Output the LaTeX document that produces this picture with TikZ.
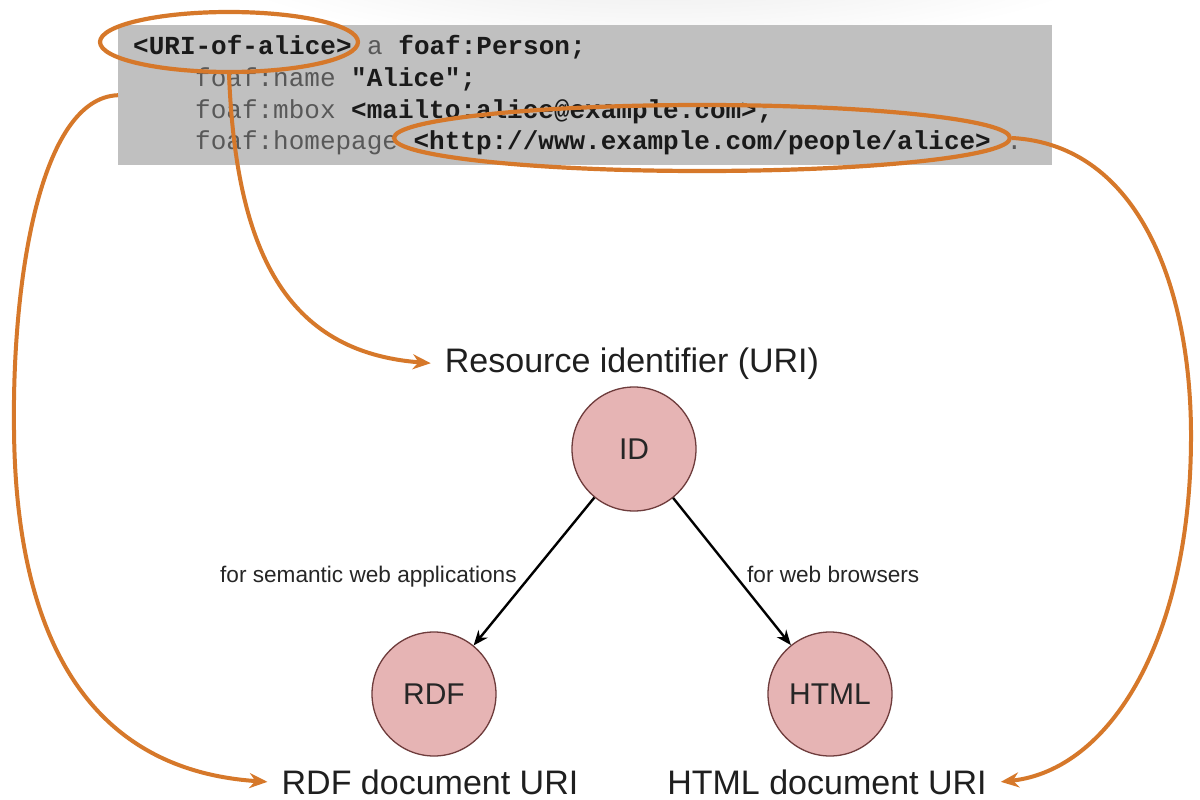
\documentclass[tikz,border=0pt]{standalone}
\usepackage{fontspec}
\setmainfont{Liberation Sans}
\newfontfamily\codefont{Liberation Mono}
\usetikzlibrary{arrows.meta,shapes.geometric}
\definecolor{orng}{HTML}{D6782A}
\definecolor{pinkfill}{HTML}{E6B4B4}
\definecolor{pinkdraw}{HTML}{6E3C3C}
\definecolor{codebg}{HTML}{C0C0C0}
\definecolor{codereg}{HTML}{585858}
\definecolor{codebold}{HTML}{1A1A1A}
\newcommand\cb[1]{{\bfseries\color{codebold}#1}}
\begin{document}
\begin{tikzpicture}[x=1pt,y=-1pt,
  code/.style={anchor=base west, inner sep=0pt, font=\codefont\fontsize{26}{26}\selectfont, text=codereg},
  big/.style={anchor=base, inner sep=0pt, font=\fontsize{34}{34}\selectfont, text=black!88},
  small/.style={anchor=base west, inner sep=0pt, font=\fontsize{22.6}{23}\selectfont, text=black!85},
  res/.style={circle, draw=pinkdraw, fill=pinkfill, line width=1.3pt, minimum size=124pt, inner sep=0pt, font=\fontsize{30}{30}\selectfont, text=black!85},
  hl/.style={ellipse, draw=orng, line width=4.2pt, inner sep=0pt},
  link/.style={draw=orng, line width=4pt, -{Stealth[length=18pt,width=15pt]}},
  arc/.style={draw=black, line width=2.4pt, -{Stealth[length=15pt,width=12pt]}}]
\useasboundingbox (0,0) rectangle (1200,800);
\fill[white] (0,0) rectangle (1200,800);
% faint slide shading at top
\begin{scope}
\clip (0,0) rectangle (1200,26);
\shade[inner color=black!10, outer color=white] (660,-60) ellipse [x radius=480, y radius=110];
\end{scope}
% code box
\node[fill=codebg, minimum width=934pt, minimum height=140pt, inner sep=0pt, anchor=north west] (box) at (118,25) {};
\node[code] (l1) at (133,55) {\cb{<URI-of-alice>} a \cb{foaf:Person;}};
\node[code] (l2) at (195,87) {foaf:name \cb{"Alice";}};
\node[code] (l3) at (195,118) {foaf:mbox \cb{<mailto:alice@example.com>;}};
\node[code] (l4) at (195,149) {foaf:homepage \cb{<http://www.example.com/people/alice>} .};
% highlight ellipses
\node[hl, minimum width=258pt, minimum height=60pt] (e1) at (229,42) {};
\node[hl, minimum width=616pt, minimum height=66pt] (e2) at (702,138) {};
% labels
\node[big] (rid) at (632,372) {Resource identifier (URI)};
\node[big] (rdfl) at (430,794) {RDF document URI};
\node[big] (htmll) at (827,794) {HTML document URI};
% resources
\node[res] (ID) at (634,449) {ID};
\node[res] (RDF) at (434,694) {RDF};
\node[res] (HTML) at (830,694) {HTML};
\draw[arc] (ID) -- (RDF);
\draw[arc] (ID) -- (HTML);
\node[small] (lsem) at (220,582) {for semantic web applications};
\node[small] (lweb) at (747,582) {for web browsers};
% orange links
\draw[link] (e1.south) .. controls (236,250) and (285,352) .. ([xshift=-14pt]rid.west);
\draw[link] (box.west) .. controls (40,98) and (12,280) .. (14,430) .. controls (16,640) and (90,770) .. ([xshift=-14pt]rdfl.west);
\draw[link] (e2.east) .. controls (1140,145) and (1192,290) .. (1191,440) .. controls (1190,640) and (1110,770) .. ([xshift=14pt]htmll.east);
\end{tikzpicture}
\end{document}
